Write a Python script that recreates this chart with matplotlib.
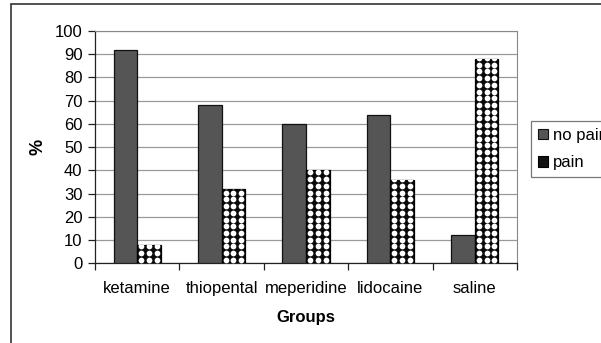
import matplotlib
matplotlib.use("Agg")
import matplotlib.pyplot as plt
from matplotlib.patches import Rectangle, Patch
import numpy as np

categories = ["ketamine", "thiopental", "meperidine", "lidocaine", "saline"]
no_pain = [92, 68, 60, 64, 12]
pain = [8, 32, 40, 36, 88]
series_names = ["no pain", "pain"]
y_ticks = [0, 10, 20, 30, 40, 50, 60, 70, 80, 90, 100]

plt.rcParams['font.family'] = ['Liberation Sans', 'DejaVu Sans']

W, H = 601, 343
fig = plt.figure(figsize=(W / 100, H / 100), dpi=100)
ax = fig.add_axes([95 / W, 1 - 263.3 / H, (517 - 95) / W, (263.3 - 31) / H])

# outer frame
fig.patches.append(Rectangle((11 / W, -0.1), 1.2, 1 - 4 / H + 0.1, transform=fig.transFigure,
                             fill=False, edgecolor='#333333', linewidth=1.2))

x = np.arange(len(categories))
bw = 0.28
b1 = ax.bar(x - bw / 2, no_pain, bw, color='#555555', edgecolor='#111111', linewidth=0.9, zorder=3)
b2 = ax.bar(x + bw / 2, pain, bw, color='#0a0a0a', edgecolor='#000000', linewidth=0.9, zorder=3)

# dot pattern inside pain bars
for rect in b2:
    x0, w, h = rect.get_x(), rect.get_width(), rect.get_height()
    xs = x0 + w * (np.arange(3) + 0.5) / 3
    step = 2.9
    ys = np.arange(step / 2, h + step, step)
    XX, YY = np.meshgrid(xs, ys)
    sc = ax.scatter(XX.ravel(), YY.ravel(), s=17, color='white', zorder=4, linewidths=0)
    sc.set_clip_path(rect)

ax.set_xlim(-0.5, len(categories) - 0.5)
ax.set_ylim(0, 100)
ax.set_yticks(y_ticks)
ax.set_xticks(x)
ax.set_xticklabels(categories, fontsize=12)
ax.tick_params(axis='x', which='major', length=0, pad=13)
ax.set_xticks(np.arange(-0.5, len(categories), 1), minor=True)
ax.tick_params(axis='x', which='minor', length=5, width=0.9, direction='out', color='#222222')
ax.tick_params(axis='y', labelsize=12, length=5, width=0.9, direction='out', color='#222222', pad=4)
ax.yaxis.grid(True, color='#9a9a9a', linewidth=0.9, zorder=0)
ax.set_axisbelow(True)
for s in ['top', 'right']:
    ax.spines[s].set_color('#888888')
    ax.spines[s].set_linewidth(0.8)
    ax.spines[s].set_linestyle((0, (1, 1)))
for s in ['left', 'bottom']:
    ax.spines[s].set_color('#222222')
    ax.spines[s].set_linewidth(0.9)

ax.set_xlabel("Groups", fontsize=12, fontweight='bold', labelpad=10)
ax.set_ylabel("%", fontsize=13, fontweight='bold', labelpad=6)

handles = [Patch(facecolor='#555555', edgecolor='#111111', linewidth=0.8),
           Patch(facecolor='#111111', edgecolor='#000000', linewidth=0.8)]
leg = fig.legend(handles, series_names, loc='upper left', bbox_to_anchor=(531 / W, 1 - 121 / H),
                 fontsize=12, frameon=True, fancybox=False, edgecolor='#555555',
                 handlelength=0.6, handleheight=0.6, handletextpad=0.3, borderpad=0.4,
                 labelspacing=0.75, borderaxespad=0)
leg.get_frame().set_linewidth(0.9)

fig.savefig("out.png", dpi=100)
